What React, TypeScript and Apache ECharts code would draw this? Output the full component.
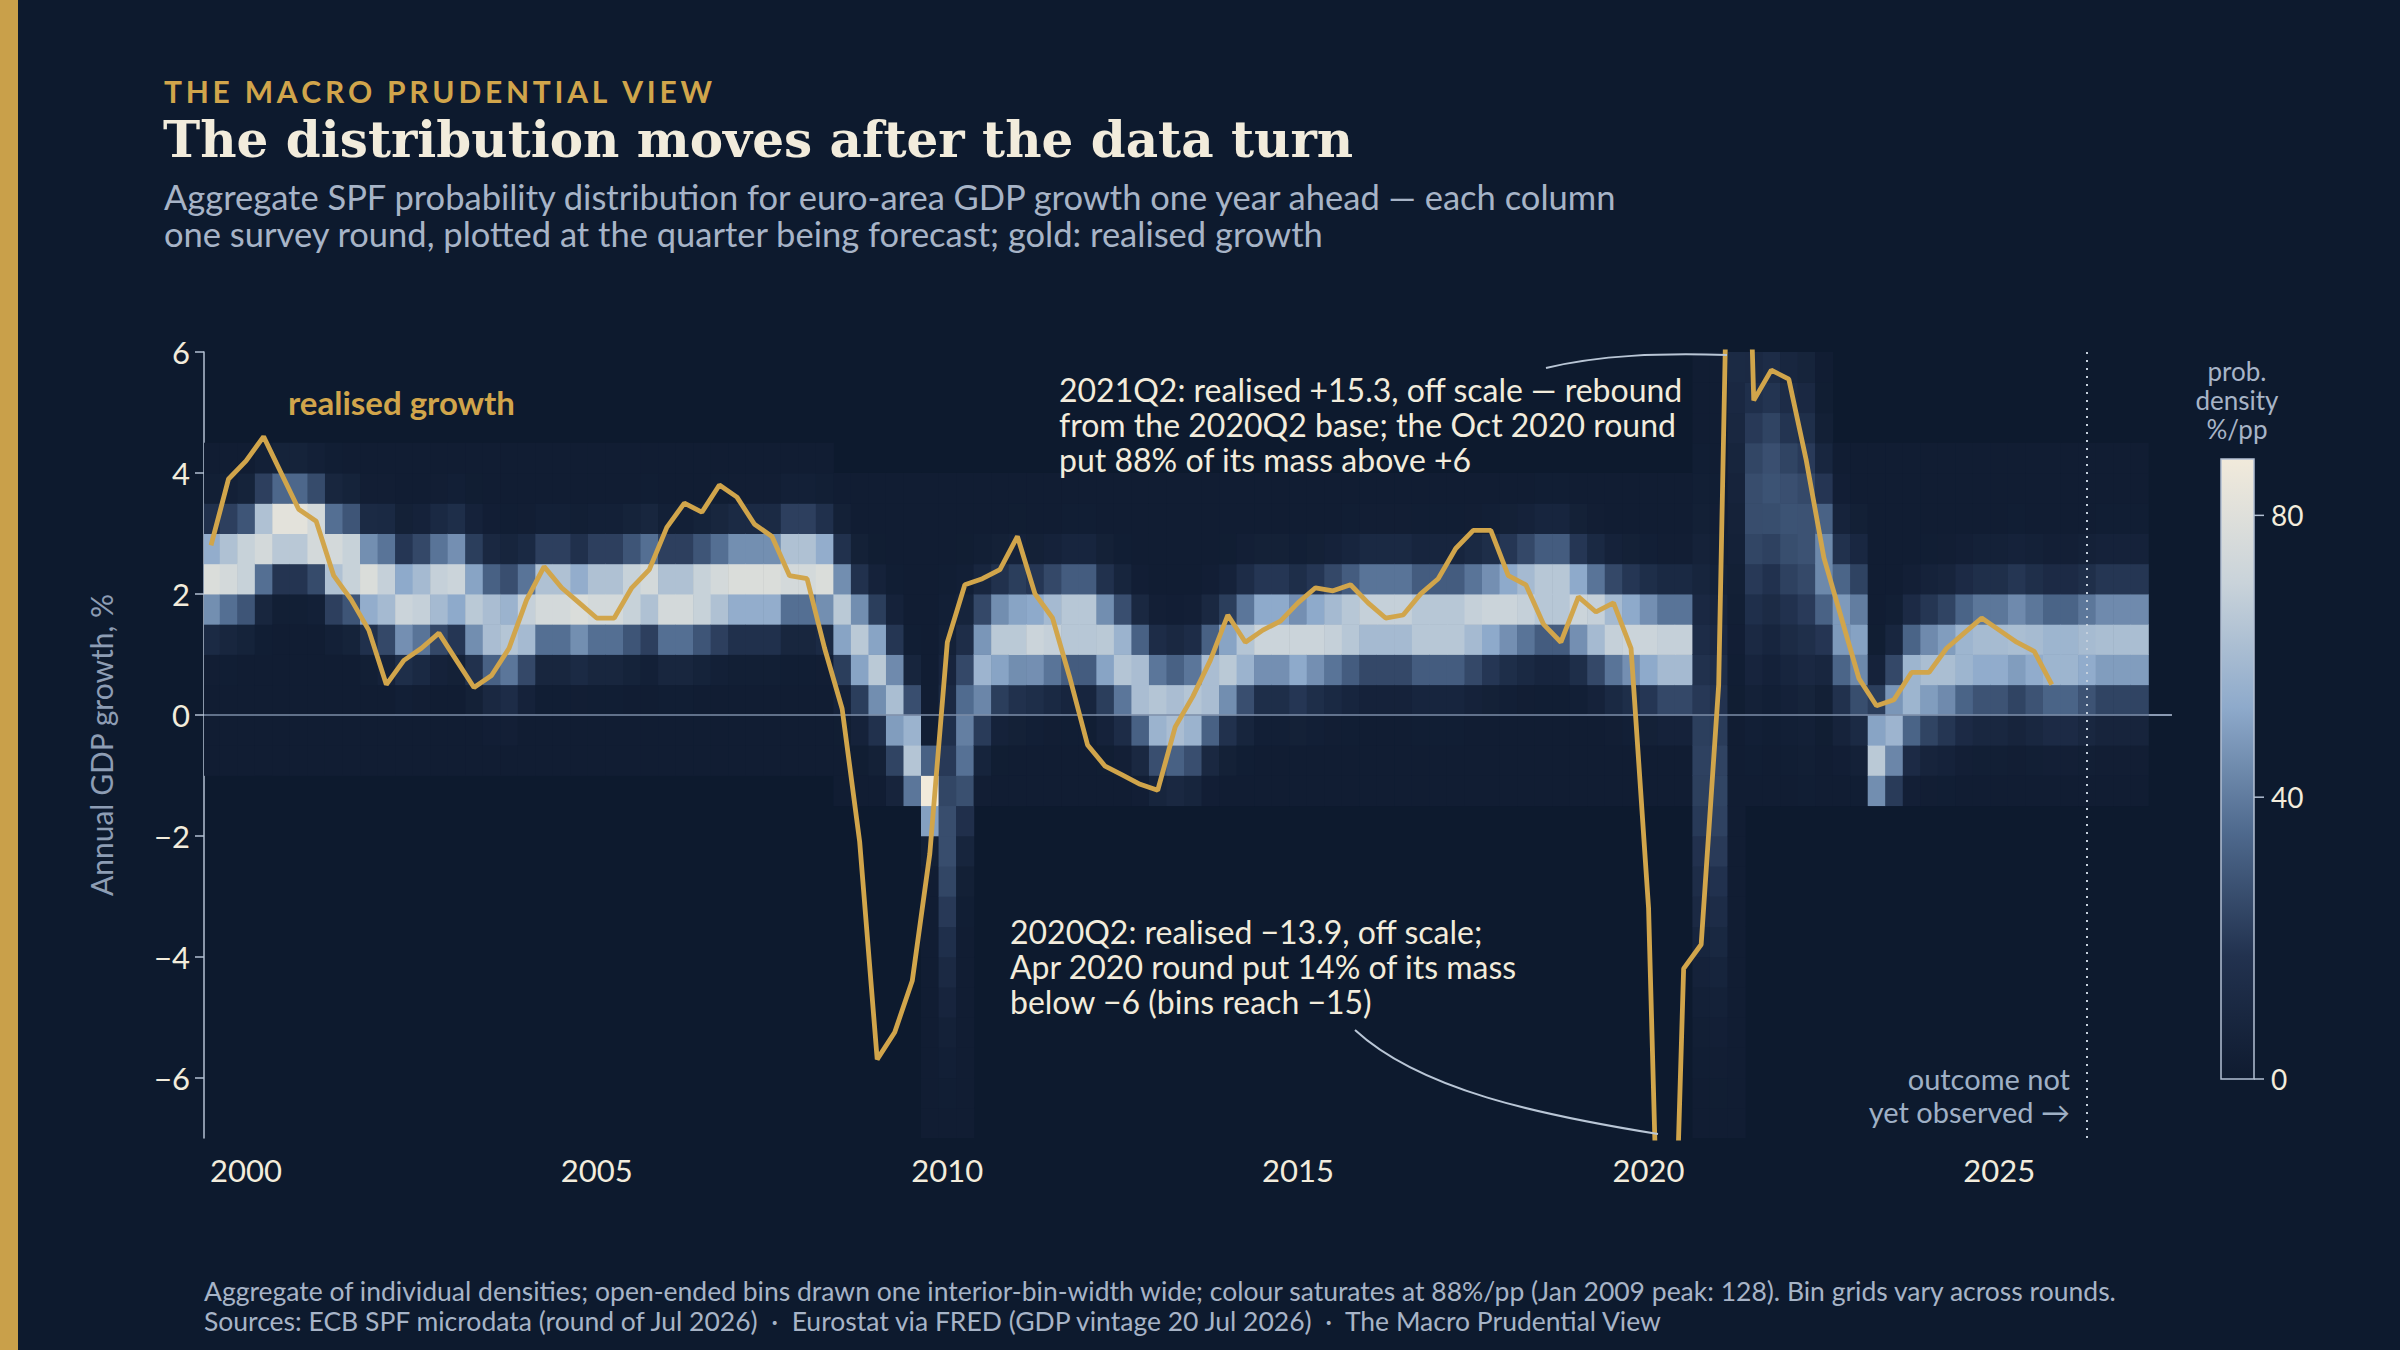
import { useEffect, useRef } from 'react'
import * as echarts from 'echarts'

// survey columns, one per quarter being forecast (1999Q3 .. 2027Q1)
const firstColumn = 1999.5
const colMean = [
  2.3, 2.4,
  2.5, 2.9, 3.1, 3.1,
  3.0, 2.6, 2.5, 2.2,
  2.1, 1.8, 1.9, 2.1,
  2.2, 1.8, 1.5, 1.4,
  1.6, 1.9, 1.9, 1.8,
  1.9, 1.9, 2.0, 2.1,
  1.9, 1.9, 2.0, 2.1,
  2.2, 2.2, 2.2, 2.4,
  2.4, 2.3, 1.7, 1.2,
  0.8, 0.2, -0.6, -1.3,
  -2.0, -0.3, 0.8, 1.2,
  1.3, 1.3, 1.4, 1.5,
  1.5, 1.2, 0.9, 0.5,
  0.1, 0.0, 0.1, 0.5,
  0.8, 1.1, 1.3, 1.3,
  1.2, 1.3, 1.4, 1.5,
  1.6, 1.6, 1.6, 1.5,
  1.5, 1.5, 1.6, 1.7,
  1.8, 1.9, 2.0, 2.0,
  1.8, 1.6, 1.4, 1.3,
  1.2, 1.1, 1.1, -0.8,
  -1.2, 8.0, 3.5, 3.8,
  3.3, 3.0, 2.5, 1.5,
  1.2, -0.7, -0.2, 0.5,
  0.7, 0.8, 1.0, 1.1,
  1.1, 1.2, 1.1, 1.0,
  1.0, 1.1, 1.2, 1.2,
  1.2,
]
const colSd = [
  0.5, 0.5,
  0.5, 0.5, 0.45, 0.45,
  0.45, 0.5, 0.5, 0.5,
  0.55, 0.55, 0.55, 0.55,
  0.55, 0.6, 0.6, 0.6,
  0.55, 0.5, 0.5, 0.5,
  0.5, 0.5, 0.5, 0.5,
  0.5, 0.5, 0.5, 0.5,
  0.5, 0.5, 0.5, 0.5,
  0.5, 0.5, 0.6, 0.6,
  0.6, 0.65, 0.6, 0.3,
  1.6, 1.0, 0.7, 0.6,
  0.6, 0.55, 0.55, 0.55,
  0.55, 0.6, 0.6, 0.6,
  0.6, 0.6, 0.6, 0.6,
  0.6, 0.6, 0.55, 0.55,
  0.55, 0.55, 0.55, 0.55,
  0.55, 0.55, 0.55, 0.55,
  0.55, 0.55, 0.55, 0.55,
  0.55, 0.55, 0.55, 0.55,
  0.55, 0.55, 0.55, 0.55,
  0.55, 0.55, 0.55, 1.9,
  1.8, 3.0, 1.6, 1.5,
  1.5, 1.5, 0.9, 0.8,
  0.8, 0.6, 0.7, 0.65,
  0.65, 0.65, 0.65, 0.65,
  0.65, 0.65, 0.65, 0.65,
  0.65, 0.65, 0.65, 0.65,
  0.65,
]
// bin grids by era: [from, to, lowest bin edge, highest bin edge]
const binGrids = [
  [1999.5, 2008.25, -1.0, 4.5],
  [2008.5, 2009.5, -1.5, 4.0],
  [2009.75, 2010.25, -7.0, 4.0],
  [2010.5, 2020.5, -1.5, 4.0],
  [2020.75, 2021.25, -7.0, 6.0],
  [2021.5, 2022.5, -1.5, 6.0],
  [2022.75, 2027.0, -1.5, 4.5],
]
const binWidth = 0.5

// realised annual GDP growth, quarterly from 1999Q3
const realisedStart = 1999.5
const realised = [
  2.8, 3.9,
  4.2, 4.6, 4.0, 3.4,
  3.2, 2.3, 1.9, 1.4,
  0.5, 0.9, 1.1, 1.35,
  0.9, 0.45, 0.65, 1.1,
  1.9, 2.45, 2.1, 1.85,
  1.6, 1.6, 2.1, 2.4,
  3.1, 3.5, 3.35, 3.8,
  3.6, 3.15, 2.95, 2.3,
  2.25, 1.1, 0.1, -2.1,
  -5.7, -5.25, -4.4, -2.3,
  1.2, 2.15, 2.25, 2.4,
  2.95, 2.0, 1.6, 0.6,
  -0.5, -0.85, -1.0, -1.15,
  -1.25, -0.2, 0.3, 0.9,
  1.65, 1.2, 1.4, 1.55,
  1.85, 2.1, 2.05, 2.15,
  1.85, 1.6, 1.65, 2.0,
  2.25, 2.75, 3.05, 3.05,
  2.3, 2.15, 1.5, 1.2,
  1.95, 1.7, 1.85, 1.1,
  -3.2, -13.9, -4.2, -3.8,
  0.5, 15.3, 5.2, 5.7,
  5.55, 4.2, 2.6, 1.6,
  0.6, 0.15, 0.25, 0.7,
  0.7, 1.1, 1.35, 1.6,
  1.4, 1.2, 1.05, 0.5,
]

const xTicks = [2000, 2005, 2010, 2015, 2020, 2025]
const yTicks = [-6, -4, -2, 0, 2, 4, 6]
const lastObserved = 2026.25
const densityCap = 88
const colourbarTicks = [0, 40, 80]

const BG = '#0d1a2e'
const GOLD = '#d1a54b'
const CREAM = '#f2ecdc'
const MUTED = '#a7b4c7'
const RAMP = ['#0f1b30', '#22324f', '#4f6a8e', '#8eaacb', '#c9d3da', '#f1eadb']

function erf(x: number) {
  const s = x < 0 ? -1 : 1
  const a = Math.abs(x)
  const t = 1 / (1 + 0.3275911 * a)
  const y = 1 - ((((1.061405429 * t - 1.453152027) * t + 1.421413741) * t - 0.284496736) * t + 0.254829592) * t * Math.exp(-a * a)
  return s * y
}
const cdf = (z: number) => 0.5 * (1 + erf(z / Math.SQRT2))

function buildCells() {
  const cells: number[][] = []
  colMean.forEach((m, i) => {
    const x = firstColumn + i * 0.25
    const grid = binGrids.find((g) => x >= g[0] - 1e-6 && x <= g[1] + 1e-6)
    if (!grid) return
    const s = colSd[i]
    for (let lo = grid[2]; lo < grid[3] - 1e-6; lo += binWidth) {
      const mass = cdf((lo + binWidth - m) / s) - cdf((lo - m) / s)
      const d = (mass * 100) / binWidth + 1.5
      cells.push([x, lo, Math.min(d, densityCap), d])
    }
  })
  return cells
}

export default function App() {
  const ref = useRef<HTMLDivElement>(null)

  useEffect(() => {
    if (!ref.current) return
    const chart = echarts.init(ref.current, null, { renderer: 'svg' })
    const cells = buildCells()
    const line = realised.map((v, i) => [realisedStart + i * 0.25, v])
    const font = 'Lato'
    const minus = (v: number) => (v < 0 ? '\u2212' + Math.abs(v) : String(v))
    const spaced = (s: string) => s.split('').join('\u2009')

    const cbTop = 459
    const cbBottom = 1079
    const cbX = 2221
    const cbY = (v: number) => cbBottom - (v / densityCap) * (cbBottom - cbTop)

    const option: Record<string, any> = {
      animation: false,
      backgroundColor: BG,
      textStyle: { fontFamily: font },
      grid: { left: 204, right: 229, top: 352, bottom: 212 },
      xAxis: {
        type: 'value',
        min: 1999.4,
        max: 2027.45,
        axisLine: { lineStyle: { color: '#b3c0d3', width: 2 } },
        axisTick: { show: true, customValues: xTicks, length: 10, lineStyle: { color: '#b3c0d3', width: 1.5 } },
        axisLabel: { customValues: xTicks, color: CREAM, fontSize: 31, margin: 16, fontFamily: font, formatter: (v: number) => String(v) },
        splitLine: { show: false },
      },
      yAxis: {
        type: 'value',
        min: -7,
        max: 6,
        name: 'Annual GDP growth, %',
        nameLocation: 'middle',
        nameGap: 88,
        nameTextStyle: { color: '#8d9db4', fontSize: 30, fontFamily: font },
        axisLine: { show: true, lineStyle: { color: '#b3c0d3', width: 1.5 } },
        axisTick: { show: true, customValues: yTicks, length: 9, lineStyle: { color: '#b3c0d3', width: 1.5 } },
        axisLabel: { customValues: yTicks, color: CREAM, fontSize: 31, margin: 14, formatter: minus, fontFamily: font },
        splitLine: { show: false },
      },
      visualMap: {
        show: false,
        type: 'continuous',
        seriesIndex: 0,
        dimension: 2,
        min: 0,
        max: densityCap,
        inRange: { color: RAMP },
      },
      series: [
        {
          type: 'custom',
          data: cells,
          encode: { x: 0, y: 1 },
          clip: true,
          renderItem: (params: any, api: any) => {
            const x = api.value(0)
            const lo = api.value(1)
            const p0 = api.coord([x - 0.125, lo + binWidth])
            const p1 = api.coord([x + 0.125, lo])
            return {
              type: 'rect',
              shape: { x: p0[0], y: p0[1], width: p1[0] - p0[0] + 0.6, height: p1[1] - p0[1] + 0.6 },
              style: { fill: api.visual('color') },
            }
          },
          z: 1,
        },
        {
          type: 'line',
          data: line,
          symbol: 'none',
          clip: true,
          lineStyle: { color: GOLD, width: 4.8 },
          z: 5,
          markLine: {
            silent: true,
            symbol: 'none',
            label: { show: false },
            data: [
              { yAxis: 0, lineStyle: { color: '#7d8ea8', width: 1.5, type: 'solid' } },
              { xAxis: lastObserved, lineStyle: { color: '#c5d0dd', width: 2, type: [2, 6] } },
            ],
          },
        },
      ],
      graphic: [
        { type: 'rect', left: 0, top: 0, z: 100, shape: { width: 18, height: 1350 }, style: { fill: '#c9a04a' } },
        {
          type: 'text', left: 164, top: 76, z: 100,
          style: { text: spaced('THE MACRO PRUDENTIAL VIEW'), fill: GOLD, font: `bold 30px ${font}` },
        },
        {
          type: 'text', left: 163, top: 114, z: 100,
          style: { text: 'The distribution moves after the data turn', fill: CREAM, font: 'bold 50px "DejaVu Serif"' },
        },
        {
          type: 'text', left: 164, top: 178, z: 100,
          style: {
            text: 'Aggregate SPF probability distribution for euro-area GDP growth one year ahead \u2014 each column\none survey round, plotted at the quarter being forecast; gold: realised growth',
            fill: MUTED, font: `34.5px ${font}`, lineHeight: 37,
          },
        },
        { type: 'text', left: 288, top: 385, z: 100, style: { text: 'realised growth', fill: GOLD, font: `bold 33px ${font}` } },
        {
          type: 'text', left: 1059, top: 372, z: 100,
          style: {
            text: '2021Q2: realised +15.3, off scale \u2014 rebound\nfrom the 2020Q2 base; the Oct 2020 round\nput 88% of its mass above +6',
            fill: CREAM, font: `32px ${font}`, lineHeight: 35,
          },
        },
        {
          type: 'bezierCurve', z: 100,
          shape: { x1: 1546, y1: 368, x2: 1727, y2: 355, cpx1: 1600, cpy1: 355, cpx2: 1660, cpy2: 353 },
          style: { stroke: '#b9c6d6', lineWidth: 2, fill: null },
        },
        {
          type: 'text', left: 1010, top: 914, z: 100,
          style: {
            text: '2020Q2: realised \u221213.9, off scale;\nApr 2020 round put 14% of its mass\nbelow \u22126 (bins reach \u221215)',
            fill: CREAM, font: `32px ${font}`, lineHeight: 35,
          },
        },
        {
          type: 'bezierCurve', z: 100,
          shape: { x1: 1355, y1: 1030, x2: 1658, y2: 1134, cpx1: 1420, cpy1: 1090, cpx2: 1540, cpy2: 1115 },
          style: { stroke: '#b9c6d6', lineWidth: 2, fill: null },
        },
        {
          type: 'text', x: 2070, y: 1062, z: 100,
          style: { text: 'outcome not\nyet observed \u2192', fill: '#9fb0c5', font: `29px ${font}`, lineHeight: 33, align: 'right' },
        },
        {
          type: 'text', x: 2237, y: 356, z: 100,
          style: { text: 'prob.\ndensity\n%/pp', fill: MUTED, font: `26px ${font}`, lineHeight: 29, align: 'center' },
        },
        {
          type: 'rect', z: 100,
          shape: { x: cbX, y: cbTop, width: 33, height: cbBottom - cbTop },
          style: {
            fill: new echarts.graphic.LinearGradient(0, 1, 0, 0, RAMP.map((c, i) => ({ offset: i / (RAMP.length - 1), color: c }))),
            stroke: '#b3c0d3',
            lineWidth: 1.5,
          },
        },
        ...colourbarTicks.map((t) => ({
          type: 'line', z: 100,
          shape: { x1: cbX + 33, y1: cbY(t), x2: cbX + 43, y2: cbY(t) },
          style: { stroke: '#b3c0d3', lineWidth: 1.5 },
        })),
        ...colourbarTicks.map((t) => ({
          type: 'text', z: 100,
          x: cbX + 50,
          y: cbY(t),
          style: { text: String(t), fill: CREAM, font: `28px ${font}`, verticalAlign: 'middle' },
        })),
        {
          type: 'text', left: 204, top: 1276, z: 100,
          style: {
            text: 'Aggregate of individual densities; open-ended bins drawn one interior-bin-width wide; colour saturates at 88%/pp (Jan 2009 peak: 128). Bin grids vary across rounds.\nSources: ECB SPF microdata (round of Jul 2026)  \u00b7  Eurostat via FRED (GDP vintage 20 Jul 2026)  \u00b7  The Macro Prudential View',
            fill: MUTED, font: `26.5px ${font}`, lineHeight: 30,
          },
        },
      ],
    }

    chart.setOption(option)
    return () => chart.dispose()
  }, [])

  return <div ref={ref} style={{ position: 'fixed', left: 0, top: 0, width: 2400, height: 1350, background: BG }} />
}
